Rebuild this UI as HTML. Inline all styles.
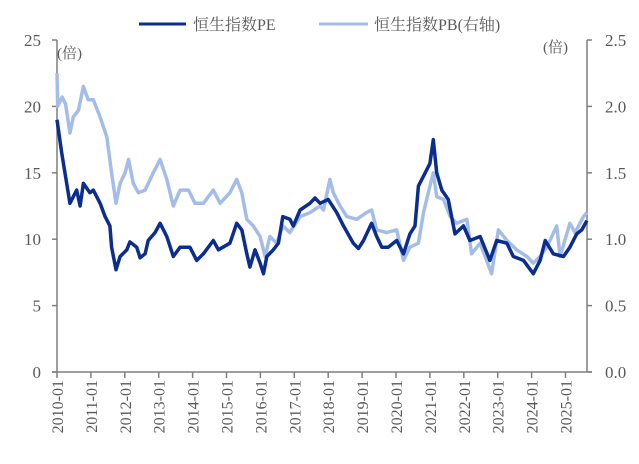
<!DOCTYPE html>
<html><head><meta charset="utf-8">
<style>
html,body{margin:0;padding:0;background:#fff;}
svg text{font-family:"Liberation Serif","Noto Serif CJK SC",serif;fill:#595959;}
</style></head>
<body>
<svg id="chart" width="639" height="459" xmlns="http://www.w3.org/2000/svg">
<g id="legend">
  <line x1="139" y1="24" x2="186" y2="24" stroke="#0a2d8f" stroke-width="3"/>
  <text x="193" y="30" font-size="16">恒生指数PE</text>
  <line x1="319" y1="24" x2="368" y2="24" stroke="#a4bde8" stroke-width="3"/>
  <text x="374" y="30" font-size="16">恒生指数PB(右轴)</text>
</g>
<text x="57" y="58" font-size="15">(倍)</text>
<text x="543" y="52" font-size="15">(倍)</text>
<g id="axes"></g>
<g id="series"></g>
</svg>
<script>
const peDates=[0,0.14,0.33,0.38,0.58,0.68,0.78,0.97,1.07,1.27,1.42,1.56,1.61,1.74,1.86,2.06,2.15,2.35,2.45,2.60,2.69,2.89,3.04,3.24,3.43,3.63,3.92,4.12,4.32,4.61,4.76,5.10,5.30,5.45,5.60,5.69,5.84,5.99,6.09,6.19,6.38,6.53,6.66,6.87,6.97,7.17,7.46,7.61,7.76,8.00,8.25,8.45,8.74,8.89,9.04,9.28,9.43,9.58,9.77,10.02,10.22,10.41,10.56,10.66,10.86,11.00,11.10,11.20,11.35,11.54,11.64,11.74,11.99,12.18,12.48,12.77,12.97,13.27,13.46,13.76,14.05,14.25,14.40,14.64,14.94,15.13,15.33,15.48,15.63];
const peValues=[19,16.5,13.5,12.7,13.7,12.5,14.2,13.5,13.7,12.7,11.7,11,9.4,7.7,8.7,9.2,9.8,9.4,8.6,8.9,9.9,10.5,11.2,10.2,8.7,9.4,9.4,8.4,8.9,9.9,9.2,9.7,11.2,10.7,8.9,7.9,9.2,8.2,7.4,8.7,9.2,9.7,11.7,11.5,11,12.2,12.7,13.1,12.7,13,12,11,9.7,9.3,9.9,11.2,10.2,9.4,9.4,9.9,8.9,10.4,11,14,15,15.7,17.5,15,13.7,13,11.7,10.4,11,9.9,10.2,8.4,9.9,9.7,8.7,8.4,7.4,8.4,9.9,8.9,8.7,9.4,10.4,10.7,11.4];
const pbDates=[0,0.02,0.15,0.25,0.38,0.48,0.63,0.78,0.92,1.07,1.27,1.47,1.61,1.74,1.86,2.01,2.11,2.25,2.40,2.60,2.84,3.04,3.24,3.43,3.63,3.88,4.07,4.32,4.61,4.81,5.10,5.30,5.45,5.60,5.79,5.99,6.14,6.28,6.48,6.66,6.87,7.17,7.46,7.76,7.86,8.05,8.15,8.35,8.55,8.84,9.13,9.28,9.43,9.72,10.02,10.22,10.41,10.66,10.81,11.00,11.10,11.20,11.40,11.60,11.79,12.09,12.23,12.48,12.82,13.02,13.27,13.56,13.86,14.05,14.25,14.45,14.74,14.84,15.13,15.28,15.53,15.63];
const pbValues=[2.25,2.0,2.07,2.02,1.8,1.92,1.97,2.15,2.05,2.05,1.92,1.77,1.5,1.27,1.42,1.5,1.6,1.42,1.35,1.37,1.5,1.6,1.45,1.25,1.37,1.37,1.27,1.27,1.37,1.27,1.35,1.45,1.35,1.15,1.1,1.02,0.87,1.02,0.97,1.1,1.05,1.17,1.2,1.25,1.22,1.45,1.35,1.25,1.17,1.15,1.2,1.22,1.07,1.05,1.07,0.84,0.94,0.97,1.2,1.4,1.5,1.32,1.3,1.17,1.12,1.15,0.89,0.97,0.74,1.07,0.99,0.92,0.87,0.82,0.87,0.94,1.1,0.87,1.12,1.05,1.17,1.2];
const leftTicks=[0,5,10,15,20,25];
const rightTicks=["0.0","0.5","1.0","1.5","2.0","2.5"];
const yearLabels=["2010-01","2011-01","2012-01","2013-01","2014-01","2015-01","2016-01","2017-01","2018-01","2019-01","2020-01","2021-01","2022-01","2023-01","2024-01","2025-01"];

const X0=57,X1=587,Y0=372,Y1=40,PX_PER_YEAR=33.9;
const xScale=t=>X0+t*PX_PER_YEAR;
const yLeft=v=>Y0-(v/25)*(Y0-Y1);
const yRight=v=>Y0-(v/2.5)*(Y0-Y1);
const NS="http://www.w3.org/2000/svg";
const axes=document.getElementById('axes');
const series=document.getElementById('series');
function mk(tag,attrs,parent){const e=document.createElementNS(NS,tag);for(const k in attrs)e.setAttribute(k,attrs[k]);parent.appendChild(e);return e;}
const AX="#7f7f7f";
let e;
e=mk('line',{x1:X0,y1:Y1,x2:X0,y2:Y0,stroke:AX,'stroke-width':1.5},axes);


e=mk('line',{x1:X1,y1:Y1,x2:X1,y2:Y0,stroke:AX,'stroke-width':1.5},axes);


e=mk('line',{x1:X0-5,y1:Y0,x2:X1+5,y2:Y0,stroke:AX,'stroke-width':1.5},axes);


leftTicks.forEach(v=>{
  const y=yLeft(v);
  e=mk('line',{x1:X0-5,y1:y,x2:X0,y2:y,stroke:AX,'stroke-width':1.5},axes);
  
  
  e=mk('text',{x:X0-16,y:y+6,'font-size':17,'text-anchor':'end'},axes);
  e.textContent=v;
  
  
});
rightTicks.forEach(s=>{
  const y=yRight(parseFloat(s));
  e=mk('line',{x1:X1,y1:y,x2:X1+5,y2:y,stroke:AX,'stroke-width':1.5},axes);
  
  
  e=mk('text',{x:X1+18,y:y+6,'font-size':17},axes);
  e.textContent=s;
  
  
});
yearLabels.forEach((s,i)=>{
  const x=xScale(i);
  e=mk('line',{x1:x,y1:Y0,x2:x,y2:Y0+6,stroke:AX,'stroke-width':1.5},axes);
  
  
  e=mk('text',{x:0,y:0,'font-size':16,'text-anchor':'end',transform:`translate(${x+6},${Y0+8}) rotate(-90)`},axes);
  e.textContent=s;
  
  
});
function pathFrom(dates,vals,ys){return dates.map((t,i)=>(i?'L':'M')+xScale(t).toFixed(1)+','+ys(vals[i]).toFixed(1)).join(' ');}
e=mk('path',{d:pathFrom(pbDates,pbValues,yRight),fill:'none',stroke:'#a4bde8','stroke-width':3.5,'stroke-linejoin':'round'},series);


e=mk('path',{d:pathFrom(peDates,peValues,yLeft),fill:'none',stroke:'#0a2d8f','stroke-width':3.5,'stroke-linejoin':'round'},series);


</script>
</body></html>
